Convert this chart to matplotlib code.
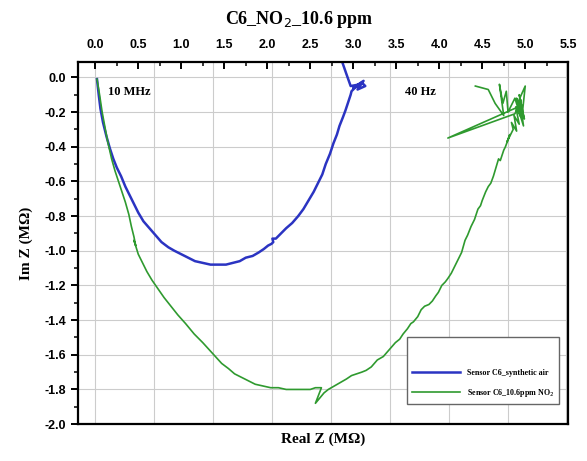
import numpy as np
import matplotlib.pyplot as plt
from matplotlib.ticker import MultipleLocator

# Nyquist data (MOhm)
air_re = [0.02, 0.04, 0.06, 0.09, 0.13, 0.17, 0.21, 0.25, 0.30, 0.35, 0.40, 0.45, 0.50, 0.56,
          0.63, 0.70, 0.77, 0.85, 0.92, 1.00, 1.08, 1.16, 1.25, 1.34, 1.43, 1.52, 1.60, 1.68,
          1.75, 1.83, 1.90, 1.96, 2.01, 2.05, 2.07, 2.06, 2.10, 2.16, 2.22, 2.29, 2.36, 2.42,
          2.48, 2.54, 2.59, 2.64, 2.68, 2.73, 2.77, 2.81, 2.84, 2.88, 2.91, 2.93, 2.95, 2.97,
          2.98, 3.02, 3.10, 3.14, 3.05, 3.12, 3.00, 3.08, 2.97, 2.92, 2.85]
air_im = [-0.01, -0.10, -0.18, -0.26, -0.34, -0.41, -0.47, -0.52, -0.57, -0.63, -0.68, -0.73,
          -0.78, -0.83, -0.87, -0.91, -0.95, -0.98, -1.00, -1.02, -1.04, -1.06, -1.07, -1.08,
          -1.08, -1.08, -1.07, -1.06, -1.04, -1.03, -1.01, -0.99, -0.97, -0.96, -0.95, -0.93,
          -0.93, -0.90, -0.87, -0.84, -0.80, -0.76, -0.71, -0.66, -0.61, -0.56, -0.50, -0.44,
          -0.38, -0.33, -0.28, -0.23, -0.19, -0.16, -0.13, -0.10, -0.08, -0.06, -0.03, -0.05,
          -0.07, -0.02, -0.06, -0.04, -0.05, 0.02, 0.12]

no2_re = [0.02, 0.05, 0.08, 0.11, 0.14, 0.19, 0.23, 0.27, 0.31, 0.35, 0.39, 0.42, 0.45, 0.47,
          0.45, 0.50, 0.55, 0.60, 0.66, 0.73, 0.80, 0.88, 0.96, 1.05, 1.15, 1.25, 1.36, 1.47,
          1.55, 1.62, 1.70, 1.78, 1.86, 1.95, 2.04, 2.13, 2.22, 2.30, 2.37, 2.44, 2.50, 2.56,
          2.63, 2.56, 2.66, 2.71, 2.78, 2.85, 2.92, 2.98, 3.04, 3.10, 3.15, 3.21, 3.28, 3.35,
          3.42, 3.49, 3.54, 3.58, 3.63, 3.67, 3.70, 3.75, 3.79, 3.83, 3.88, 3.92, 3.96, 3.99,
          4.03, 4.07, 4.10, 4.14, 4.18, 4.22, 4.26, 4.30, 4.33, 4.37, 4.41, 4.45, 4.48, 4.50,
          4.54, 4.57, 4.60, 4.63, 4.66, 4.69, 4.71, 4.73, 4.75, 4.77, 4.80, 4.82, 4.79, 4.86,
          4.84, 4.90, 4.87, 4.93, 4.89, 4.95, 4.90, 4.96, 4.92, 4.10, 4.88, 4.95, 4.91, 5.00,
          4.97, 4.93, 4.99, 4.94, 4.98, 4.88, 4.80, 4.78, 4.74, 4.70, 4.75, 4.65, 4.57, 4.42]
no2_im = [-0.01, -0.10, -0.20, -0.28, -0.36, -0.47, -0.54, -0.60, -0.66, -0.72, -0.79, -0.86,
          -0.92, -0.97, -0.94, -1.02, -1.07, -1.12, -1.17, -1.22, -1.27, -1.32, -1.37, -1.42,
          -1.48, -1.53, -1.59, -1.65, -1.68, -1.71, -1.73, -1.75, -1.77, -1.78, -1.79, -1.79,
          -1.80, -1.80, -1.80, -1.80, -1.80, -1.79, -1.79, -1.88, -1.82, -1.80, -1.78, -1.76,
          -1.74, -1.72, -1.71, -1.70, -1.69, -1.67, -1.63, -1.61, -1.57, -1.53, -1.51, -1.48,
          -1.45, -1.42, -1.41, -1.38, -1.34, -1.32, -1.31, -1.29, -1.26, -1.24, -1.20, -1.18,
          -1.16, -1.13, -1.09, -1.05, -1.01, -0.94, -0.91, -0.86, -0.82, -0.76, -0.74, -0.71,
          -0.66, -0.63, -0.61, -0.57, -0.52, -0.47, -0.48, -0.45, -0.42, -0.40, -0.36, -0.33,
          -0.37, -0.30, -0.26, -0.31, -0.22, -0.27, -0.17, -0.23, -0.12, -0.21, -0.17, -0.35,
          -0.21, -0.13, -0.15, -0.05, -0.19, -0.10, -0.24, -0.14, -0.28, -0.12, -0.20, -0.08,
          -0.15, -0.04, -0.22, -0.15, -0.07, -0.05]

grid_x = np.linspace(0, 5.48, 9)
grid_y = np.arange(0, -2.0, -0.2)

serif = 'Liberation Serif'
sans = 'Liberation Sans'

fig = plt.figure(figsize=(5.87, 4.61), dpi=100)
ax = fig.add_axes([0.133, 0.080, 0.835, 0.786])

for g in grid_x:
    ax.axvline(g, color='#cccccc', lw=0.8, zorder=0)
for g in grid_y:
    ax.axhline(g, color='#cccccc', lw=0.8, zorder=0)

ax.plot(air_re, air_im, color='#2b34c2', lw=1.8, label='Sensor C6_synthetic air')
ax.plot(no2_re, no2_im, color='#2f9a2f', lw=1.2, label='Sensor C6_10.6ppm NO$_2$')

ax.set_xlim(-0.2, 5.5)
ax.set_ylim(-2.0, 0.09)

ax.xaxis.tick_top()
ax.xaxis.set_label_position('bottom')
ax.xaxis.set_minor_locator(MultipleLocator(0.25))
ax.yaxis.set_minor_locator(MultipleLocator(0.1))
ax.tick_params(axis='x', which='both', direction='in', top=True, bottom=False, pad=8)
ax.tick_params(axis='x', which='major', length=5, width=1.4)
ax.tick_params(axis='x', which='minor', length=3, width=1.1)
ax.tick_params(axis='y', which='both', direction='out', right=False)
ax.tick_params(axis='y', which='major', length=5, width=1.4)
ax.tick_params(axis='y', which='minor', length=3, width=1.1)
xt = np.arange(0, 5.51, 0.5)
yt = np.arange(0, -2.01, -0.2)
ax.set_xticks(xt)
ax.set_xticklabels(['%.1f' % v for v in xt], fontfamily=sans, fontweight='bold', fontsize=9)
ax.set_yticks(yt)
ax.set_yticklabels(['%.1f' % v if abs(v) > 1e-9 else '0.0' for v in yt],
                   fontfamily=sans, fontweight='bold', fontsize=9)
for s in ax.spines.values():
    s.set_linewidth(1.6)

ax.set_xlabel('Real Z (M\u03a9)', fontfamily=serif, fontweight='bold', fontsize=11, labelpad=6)
ax.set_ylabel('Im Z (M\u03a9)', fontfamily=serif, fontweight='bold', fontsize=11, labelpad=8)
fig.text(0.51, 0.957, 'C6_NO$_2$_10.6 ppm', ha='center', va='center',
         fontfamily=serif, fontweight='bold', fontsize=13)

ax.text(0.15, -0.087, '10 MHz', fontfamily=serif, fontweight='bold', fontsize=9, va='center')
ax.text(3.60, -0.087, '40 Hz', fontfamily=serif, fontweight='bold', fontsize=9, va='center')

leg = ax.legend(loc='lower right', bbox_to_anchor=(0.99, 0.045), fancybox=False,
                edgecolor='#666666', framealpha=1, title=' ', title_fontsize=12,
                prop={'family': serif, 'weight': 'bold', 'size': 5.8},
                handlelength=6, borderpad=0.6, labelspacing=1.2)
leg.get_frame().set_linewidth(1.0)

plt.savefig('out.png', dpi=100)
